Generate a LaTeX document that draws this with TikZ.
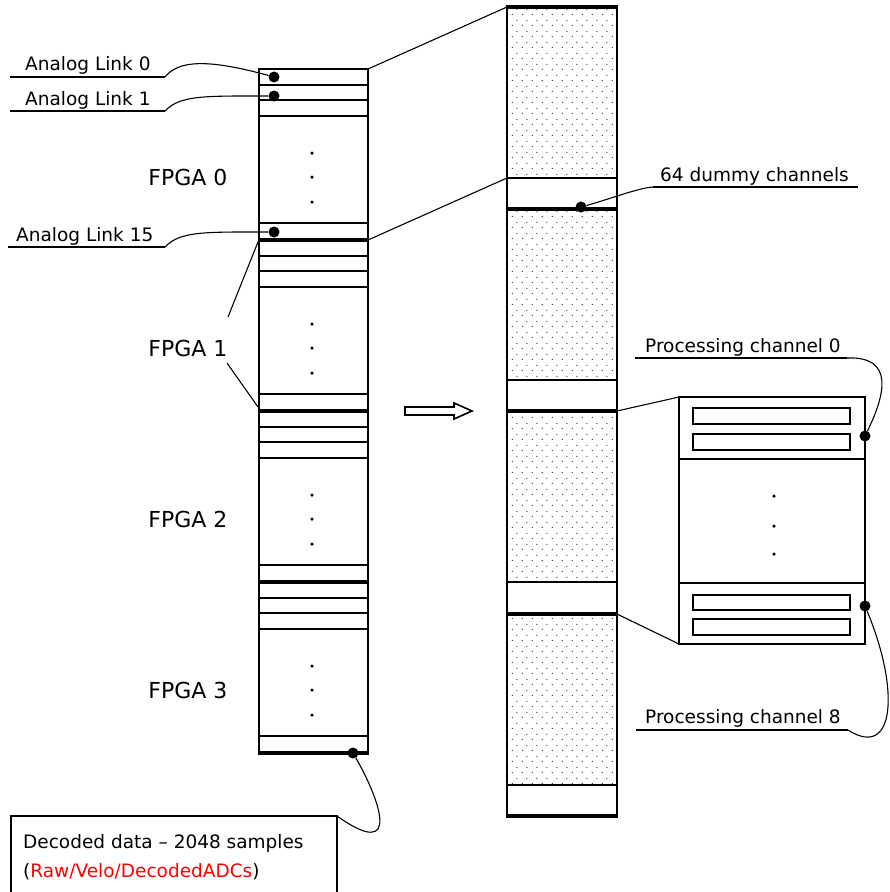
\documentclass[tikz,border=0pt]{standalone}
\usepackage{fontspec}
\setmainfont{DejaVu Sans}
\usetikzlibrary{patterns}
\pgfdeclarepatternformonly{sdots}{\pgfpointorigin}{\pgfpoint{10pt}{10.6pt}}{\pgfpoint{10pt}{10.6pt}}{%
  \pgfpathcircle{\pgfpoint{2.5pt}{2.65pt}}{0.7pt}%
  \pgfpathcircle{\pgfpoint{7.5pt}{7.95pt}}{0.7pt}%
  \pgfusepath{fill}}
\begin{document}
\begin{tikzpicture}[x=1pt,y=-1pt,
  lbl/.style={anchor=base west, inner sep=0pt, font=\fontsize{18.5}{22}\selectfont},
  fpga/.style={inner sep=0pt, font=\fontsize{22}{26}\selectfont},
  thinl/.style={line width=2pt},
  thickl/.style={line width=4.2pt},
  frame/.style={line width=2.4pt},
  conn/.style={line width=1.1pt},
  uline/.style={line width=2pt},
  bigdot/.style={circle, fill=black, inner sep=0pt, minimum size=11pt},
  smalldot/.style={circle, fill=black, inner sep=0pt, minimum size=3.5pt},
  tinyrect/.style={line width=2pt},
]
\useasboundingbox (0,0) rectangle (890,892);

% ---------------- left column (FPGA blocks) ----------------
\draw[frame] (259,69) -- (259,753);
\draw[frame] (368,69) -- (368,753);
\draw[line width=2.6pt] (258,69) -- (369,69);
\foreach \t [count=\i from 0] in {69,240,411,582} {
  \foreach \o in {16,31,47,154} {
    \draw[thinl] (259,{\t+\o}) -- (368,{\t+\o});
  }
  \foreach \o in {84,108,133} {
    \node[smalldot] at (312,{\t+\o}) {};
  }
  \node[fpga] (fpga\i) at (188,{\t+108}) {FPGA \i};
}
\foreach \t in {240,411,582,753} {
  \draw[thickl] (258,\t) -- (369,\t);
}

% ---------------- middle column ----------------
\foreach \t in {7,209,411,614} {
  \fill[pattern=sdots, pattern color=black!80] (507,\t) rectangle (617,{\t+171});
  \draw[thinl] (507,{\t+171}) -- (617,{\t+171});
  \draw[thickl] (506,\t) -- (618,\t);
}
\draw[thickl] (506,816) -- (618,816);
\draw[frame] (507,7) -- (507,816);
\draw[frame] (617,7) -- (617,816);

% ---------------- zoom lines ----------------
\coordinate (lt0) at (368,69);  \coordinate (mt0) at (507,7);
\coordinate (lt1) at (368,240); \coordinate (mt1) at (507,178);
\draw[conn] (lt0) -- (mt0);
\draw[conn] (lt1) -- (mt1);
\coordinate (f1a) at (258,242); \coordinate (f1b) at (228,317);
\coordinate (f1c) at (227,363); \coordinate (f1d) at (258,407);
\draw[conn] (f1a) -- (f1b);
\draw[conn] (f1c) -- (f1d);

% ---------------- arrow ----------------
\draw[line width=1.6pt, line join=miter] (405,407) -- (454,407) -- (454,403) -- (472,411) -- (454,419) -- (454,415) -- (405,415) -- cycle;

% ---------------- right box ----------------
\draw[frame] (679,397) rectangle (865,644);
\draw[frame] (679,459) -- (865,459);
\draw[frame] (679,583) -- (865,583);
\draw[tinyrect] (693,408) rectangle (850,424);
\draw[tinyrect] (693,434) rectangle (850,450);
\draw[tinyrect] (693,595) rectangle (850,610);
\draw[tinyrect] (693,619) rectangle (850,635);
\foreach \y in {496,526,554} { \node[smalldot] at (774,\y) {}; }
\coordinate (mb0) at (617,411); \coordinate (rb0) at (679,397);
\coordinate (mb1) at (617,614); \coordinate (rb1) at (679,644);
\draw[conn] (mb0) -- (rb0);
\draw[conn] (mb1) -- (rb1);

% ---------------- labels with leaders ----------------
\node[lbl] (al0) at (25,70) {Analog Link 0};
\node[lbl] (al1) at (25,105) {Analog Link 1};
\node[lbl] (al15) at (16,241) {Analog Link 15};
\node[bigdot] (d0) at (274,77) {};
\node[bigdot] (d1) at (274,96) {};
\node[bigdot] (d15) at (274,232) {};
\coordinate (u0s) at (10,77);  \coordinate (u0e) at (165,77);
\coordinate (u1s) at (10,111); \coordinate (u1e) at (165,111);
\coordinate (u15s) at (8,247); \coordinate (u15e) at (165,247);
\draw[uline] (u0s) -- (u0e);
\draw[uline] (u1s) -- (u1e);
\draw[uline] (u15s) -- (u15e);
\draw[conn] (u0e) .. controls (178,61) and (205,58) .. (d0);
\draw[conn] (u1e) .. controls (180,95) and (205,96) .. (d1);
\draw[conn] (u15e) .. controls (180,231) and (205,232) .. (d15);

\node[lbl] (dummy) at (660,181) {64 dummy channels};
\node[bigdot] (d64) at (581,207) {};
\coordinate (uds) at (653,187); \coordinate (ude) at (858,187);
\draw[uline] (uds) -- (ude);
\draw[conn] (d64) .. controls (610,199) and (638,188) .. (uds);

\node[lbl] (pc0) at (645,352) {Processing channel 0};
\node[bigdot] (dp0) at (865,436) {};
\coordinate (up0s) at (635,358); \coordinate (up0e) at (847,358);
\draw[uline] (up0s) -- (up0e);
\draw[conn] (up0e) .. controls (895,356) and (885,395) .. (dp0);

\node[lbl] (pc8) at (645,723) {Processing channel 8};
\node[bigdot] (dp8) at (865,606) {};
\coordinate (up8s) at (636,730); \coordinate (up8e) at (848,730);
\draw[uline] (up8s) -- (up8e);
\draw[conn] (dp8) .. controls (900,690) and (895,760) .. (up8e);

% ---------------- decoded data box ----------------
\coordinate (bl) at (11,892); \coordinate (tl) at (11,816);
\coordinate (tr) at (337,816); \coordinate (br) at (337,892);
\draw[frame] (bl) -- (tl) -- (tr) -- (br);
\node[lbl] (dec1) at (23,848) {Decoded data – 2048 samples};
\node[lbl] (dec2) at (23,877) {(\textcolor{red}{Raw/Velo/DecodedADCs})};
\node[bigdot] (dend) at (353,753) {};
\draw[conn] (dend) .. controls (380,800) and (402,862) .. (tr);
\end{tikzpicture}
\end{document}
